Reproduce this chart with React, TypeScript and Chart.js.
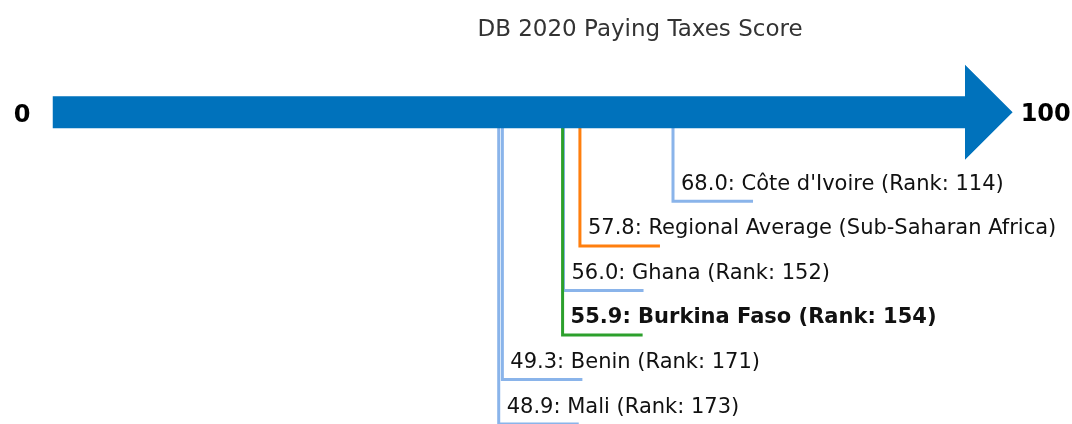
import React, { useEffect, useRef } from "react";
import { Chart, registerables } from "chart.js";

Chart.register(...registerables);

const chartTitle = "DB 2020 Paying Taxes Score";
const axisMin = 0;
const axisMax = 100;
const axisEndLabels = ["0", "100"];

const names = [
  "Côte d'Ivoire",
  "Regional Average (Sub-Saharan Africa)",
  "Ghana",
  "Burkina Faso",
  "Benin",
  "Mali",
];
const scores = [68.0, 57.8, 56.0, 55.9, 49.3, 48.9];
const ranks: (number | null)[] = [114, null, 152, 154, 171, 173];
const highlight = [false, false, false, true, false, false];
const colors = ["#8ab4ea", "#ff7f0e", "#8ab4ea", "#2ca02c", "#8ab4ea", "#8ab4ea"];

const FONT = "'DejaVu Sans', sans-serif";
const ROW_START = 2; // first marker row below the arrow (arrow at row 0)
const LEADER_LEN = 8.77; // horizontal leader length in axis units
const SHAFT_HALF = 0.359;
const HEAD_HALF = 1.067;
const HEAD_LEN = 5.22;
const VIEW_MAX = 110; // scale extent so the arrow head fits in the chart area

const labelText = (i: number) =>
  `${scores[i].toFixed(1)}: ${names[i]}` + (ranks[i] != null ? ` (Rank: ${ranks[i]})` : "");

const textPlugin = {
  id: "textPlugin",
  afterDatasetsDraw(chart: any) {
    const { ctx, scales } = chart;
    const xs = scales.x;
    const ys = scales.y;
    ctx.save();
    // title
    ctx.fillStyle = "#333333";
    ctx.font = `23px ${FONT}`;
    ctx.textAlign = "center";
    ctx.textBaseline = "alphabetic";
    ctx.fillText(chartTitle, 640, 36);
    // axis end labels
    ctx.fillStyle = "#000000";
    ctx.font = `bold 24px ${FONT}`;
    ctx.textAlign = "right";
    ctx.fillText(axisEndLabels[0], xs.getPixelForValue(axisMin) - 22, ys.getPixelForValue(0) + 9.5);
    ctx.textAlign = "left";
    ctx.fillText(
      axisEndLabels[1],
      xs.getPixelForValue(axisMax + HEAD_LEN) + 8,
      ys.getPixelForValue(0) + 8.5
    );
    // marker labels
    for (let i = 0; i < names.length; i++) {
      const x = xs.getPixelForValue(scores[i]) + 8;
      const y = ys.getPixelForValue(ROW_START + i) - 11.5;
      ctx.font = `${highlight[i] ? "bold " : ""}21px ${FONT}`;
      ctx.fillStyle = "#111111";
      ctx.textAlign = "left";
      ctx.fillText(labelText(i), x, y);
    }
    ctx.restore();
  },
};

export default function App() {
  const ref = useRef<HTMLCanvasElement | null>(null);

  useEffect(() => {
    if (!ref.current) return;
    const arrowPts = [
      { x: axisMin, y: -SHAFT_HALF },
      { x: axisMax, y: -SHAFT_HALF },
      { x: axisMax, y: -HEAD_HALF },
      { x: axisMax + HEAD_LEN, y: 0 },
      { x: axisMax, y: HEAD_HALF },
      { x: axisMax, y: SHAFT_HALF },
      { x: axisMin, y: SHAFT_HALF },
      { x: axisMin, y: -SHAFT_HALF },
    ];
    const leaderSets = names.map((n, i) => ({
      label: n,
      data: [
        { x: scores[i], y: 0 },
        { x: scores[i], y: ROW_START + i },
        { x: scores[i] + LEADER_LEN, y: ROW_START + i },
      ],
      showLine: true,
      borderColor: colors[i],
      backgroundColor: colors[i],
      borderWidth: 3,
      pointRadius: 0,
      fill: false,
      tension: 0,
      clip: false as any,
      order: highlight[i] ? 1 : 2 + i,
    }));
    const chart = new Chart(ref.current, {
      type: "scatter",
      data: {
        datasets: [
          {
            label: "arrow",
            data: arrowPts,
            showLine: true,
            borderWidth: 0,
            borderColor: "#0072bc",
            backgroundColor: "#0072bc",
            pointRadius: 0,
            fill: "shape" as any,
            tension: 0,
            clip: false as any,
            order: 0,
          },
          ...leaderSets,
        ],
      },
      options: {
        animation: false,
        responsive: false,
        devicePixelRatio: 1,
        layout: { padding: { left: 52.5, right: 15.75, top: 1, bottom: 0 } },
        scales: {
          x: { type: "linear", min: axisMin, max: VIEW_MAX, display: false },
          y: { type: "linear", min: -2.5, max: 7, reverse: true, display: false },
        },
        plugins: {
          legend: { display: false },
          tooltip: { enabled: false },
          title: { display: false },
        },
      },
      plugins: [textPlugin],
    });
    return () => chart.destroy();
  }, []);

  return (
    <div style={{ position: "fixed", left: 0, top: 0, width: 1072, height: 424, background: "#fff" }}>
      <canvas ref={ref} width={1072} height={424} style={{ width: 1072, height: 424 }} />
    </div>
  );
}
